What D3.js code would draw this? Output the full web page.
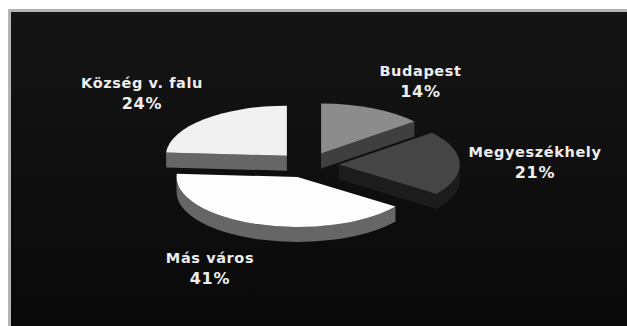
<!DOCTYPE html>
<html lang="hu">
<head>
<meta charset="utf-8">
<title>Településtípus megoszlása</title>
<script src="https://cdn.jsdelivr.net/npm/d3@7/dist/d3.min.js"></script>
<style>
  html, body { margin: 0; padding: 0; background: #fff; overflow: hidden; }
  svg { display: block; }
  text { font-family: "DejaVu Sans", Verdana, sans-serif; font-weight: 700; font-size: 14.5px; letter-spacing: 0.6px; fill: #eeeeee; text-anchor: middle; }
  text.share { font-size: 16px; letter-spacing: 0.8px; }
</style>
</head>
<body>
<svg id="chart" width="627" height="326"></svg>
<script>
// Settlement types and their percentage shares, clockwise from twelve o'clock
const categories = ["Budapest", "Megyeszékhely", "Más város", "Község v. falu"];
const shares = [14, 21, 41, 24];
const topColors = ["#8c8c8c", "#454545", "#fdfdfd", "#f1f1f1"];
const wallColors = ["#3f3f3f", "#1c1c1c", "#666666", "#666666"];

const width = 627, height = 326;
const cx = 308, cy = 165;          // pie centre before the slices are pulled apart
const rx = 121, ry = 50;           // ellipse of the tilted disc
const depth = 15;                  // thickness of the disc
const explode = 0.255;             // pull-out distance as a fraction of the radius
const tilt = ry / rx;

// Caption anchors: centre x and first-line baseline
const captionAnchors = [[420.5, 76], [535, 157], [210, 263], [142, 88]];
const lineGap = 21;

const svg = d3.select("#chart");

const defs = svg.append("defs");
const bg = defs.append("linearGradient")
  .attr("id", "panelFill").attr("x1", 0).attr("y1", 0).attr("x2", 0).attr("y2", 1);
bg.append("stop").attr("offset", 0).attr("stop-color", "#151515");
bg.append("stop").attr("offset", 1).attr("stop-color", "#090909");

// White page, grey top and left rules, dark panel
svg.append("rect").attr("x", 8).attr("y", 9).attr("width", width - 8).attr("height", height - 9).attr("fill", "#b4b4b4");
svg.append("rect").attr("x", 11).attr("y", 12).attr("width", width - 11).attr("height", height - 12).attr("fill", "url(#panelFill)");

const pie = d3.pie().sort(null).value(d => d).startAngle(0).endAngle(2 * Math.PI);
const slices = pie(shares);

const arcTop = d3.arc().innerRadius(0).outerRadius(rx);

// Point on the disc rim for a clockwise angle measured from twelve o'clock
const rim = a => [rx * Math.sin(a), -ry * Math.cos(a)];

// Curved outer wall between two angles, following the rim on the front half only
function rimWall(a0, a1) {
  const [x0, y0] = rim(a0), [x1, y1] = rim(a1);
  return `M${x0},${y0}A${rx},${ry} 0 0 1 ${x1},${y1}L${x1},${y1 + depth}A${rx},${ry} 0 0 0 ${x0},${y0 + depth}Z`;
}

// Flat cut face from the slice apex out to the rim
function cutFace(a) {
  const [x, y] = rim(a);
  return `M0,0L${x},${y}L${x},${y + depth}L0,${depth}Z`;
}

const groups = svg.selectAll("g.slice")
  .data(slices)
  .join("g")
  .attr("class", "slice")
  .attr("transform", d => {
    const mid = (d.startAngle + d.endAngle) / 2;
    const [ox, oy] = rim(mid);
    return `translate(${cx + ox * explode},${cy + oy * explode})`;
  });

groups.each(function (d, i) {
  const g = d3.select(this);
  const fill = wallColors[i];
  const from = Math.max(d.startAngle, Math.PI / 2);
  const to = Math.min(d.endAngle, 3 * Math.PI / 2);
  if (to > from) g.append("path").attr("d", rimWall(from, to)).attr("fill", fill);
  if (Math.sin(d.startAngle) < -1e-6) g.append("path").attr("d", cutFace(d.startAngle)).attr("fill", fill);
  if (Math.sin(d.endAngle) > 1e-6) g.append("path").attr("d", cutFace(d.endAngle)).attr("fill", fill);
  g.append("path")
    .attr("d", arcTop(d))
    .attr("transform", `scale(1,${tilt})`)
    .attr("fill", topColors[i]);
});

// Two-line captions: name and share
const captions = svg.selectAll("g.caption")
  .data(categories)
  .join("g")
  .attr("class", "caption")
  .attr("transform", (d, i) => `translate(${captionAnchors[i][0]},${captionAnchors[i][1]})`);
captions.append("text").text(d => d);
captions.append("text").attr("class", "share").attr("y", lineGap).text((d, i) => `${shares[i]}%`);
</script>
</body>
</html>
